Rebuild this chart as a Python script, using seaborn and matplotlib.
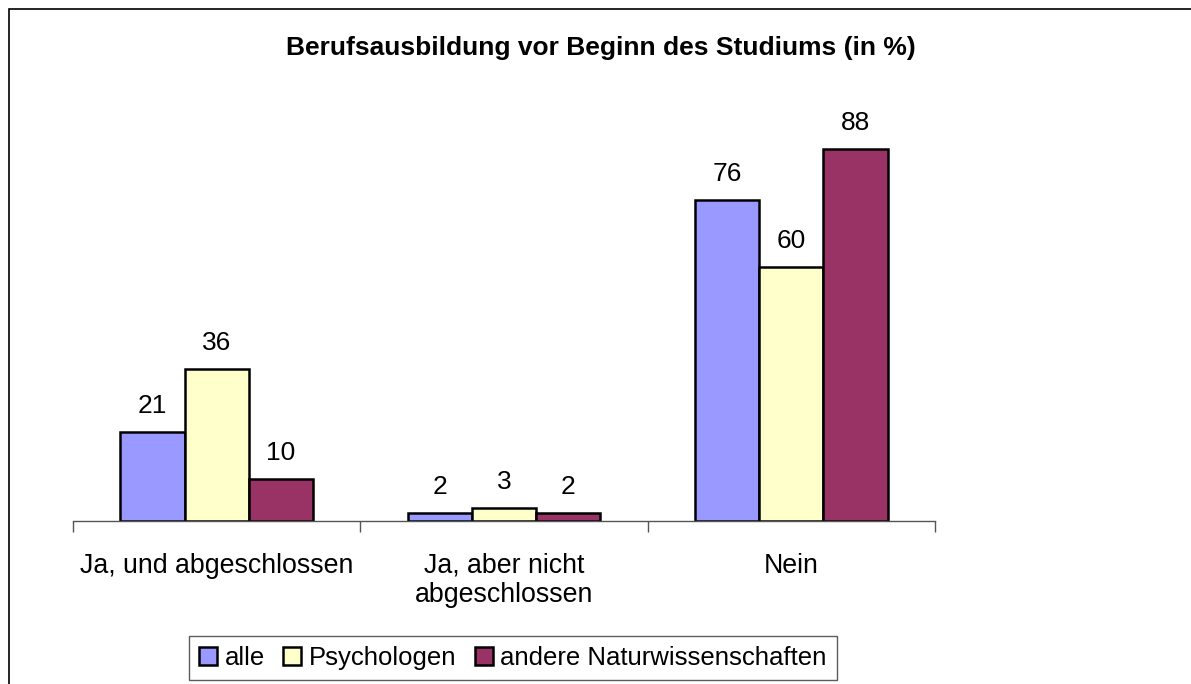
import numpy as np
import pandas as pd
import matplotlib
matplotlib.use("Agg")
import matplotlib.pyplot as plt
import seaborn as sns
from matplotlib.patches import Rectangle

categories = ["Ja, und abgeschlossen", "Ja, aber nicht\nabgeschlossen", "Nein"]
groups = ["alle", "Psychologen", "andere Naturwissenschaften"]
alle = [21, 2, 76]
psychologen = [36, 3, 60]
andere = [10, 2, 88]
colors = ["#9999FF", "#FFFFCC", "#993366"]

sns.set_style("white")
plt.rcParams["font.family"] = ["Liberation Sans", "DejaVu Sans"]
plt.rcParams["text.color"] = "black"
plt.rcParams["xtick.color"] = "black"

df = pd.DataFrame({
    "Kategorie": categories * 3,
    "Gruppe": np.repeat(groups, 3),
    "Wert": alle + psychologen + andere,
})

fig = plt.figure(figsize=(11.91, 6.84), dpi=100)
ax = fig.add_axes([73 / 1191, 1 - 521 / 684, (935 - 73) / 1191, 423 / 684])

sns.barplot(data=df, x="Kategorie", y="Wert", hue="Gruppe", order=categories,
            hue_order=groups, palette=colors, width=0.67, edgecolor="black",
            linewidth=1.8, saturation=1, ax=ax, legend=True)

for c in ax.containers:
    ax.bar_label(c, fmt="%d", padding=10, fontsize=19, color="black")

ax.set_xlim(-0.5, 2.5)
ax.set_ylim(0, 100)
ax.set_xlabel("")
ax.set_ylabel("")
ax.set_yticks([])
ax.set_xticks(range(3))
ax.set_xticklabels(categories, fontsize=19.3, linespacing=1.15, color="black")
ax.set_xticks([-0.5, 0.5, 1.5, 2.5], minor=True)
ax.tick_params(axis="x", which="major", length=0, pad=23)
ax.tick_params(axis="x", which="minor", bottom=True, length=8, width=1, color="#555555", direction="out")
for s in ["top", "left", "right"]:
    ax.spines[s].set_visible(False)
ax.spines["bottom"].set_color("#555555")
ax.spines["bottom"].set_linewidth(1)

handles, labels = ax.get_legend_handles_labels()
ax.legend_.remove()
leg = fig.legend(handles, labels, loc="center", bbox_to_anchor=(513 / 1191, 1 - 658 / 684),
                 ncol=3, fontsize=18.5, frameon=True, fancybox=False, edgecolor="#333333",
                 handlelength=0.7, handleheight=0.7, handletextpad=0.3, columnspacing=0.7,
                 borderpad=0.4, borderaxespad=0)
leg.get_frame().set_linewidth(1)

fig.text(601 / 1191, 1 - 48 / 684, "Berufsausbildung vor Beginn des Studiums (in %)",
         ha="center", va="center", fontsize=19, fontweight="bold")

fig.patches.append(Rectangle((9 / 1191, -0.1), 1.2, 1 - 9 / 684 + 0.1, transform=fig.transFigure,
                             fill=False, edgecolor="black", linewidth=1.2))

fig.savefig("out.png", dpi=100)
